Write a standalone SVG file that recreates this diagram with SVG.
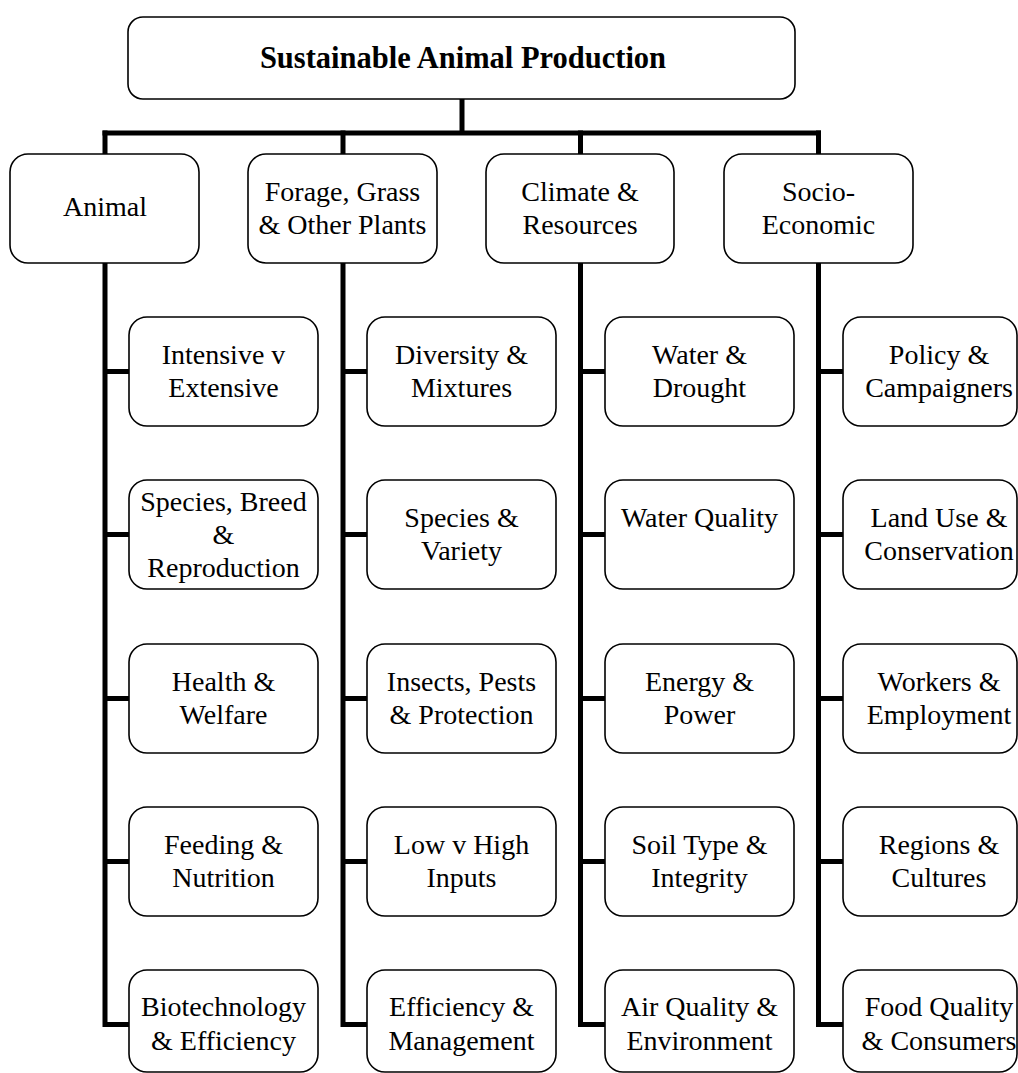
<svg xmlns="http://www.w3.org/2000/svg" width="1018" height="1073" viewBox="0 0 1018 1073">
<style>
.box{fill:#fff;stroke:#000;stroke-width:1.6}
.con{fill:none;stroke:#000;stroke-width:5;stroke-linecap:square;stroke-linejoin:miter}
text{font-family:"Liberation Serif","Times New Roman",serif;font-size:28px;fill:#000;text-anchor:middle}
.title{font-weight:bold;font-size:30.5px}
</style>
<rect width="1018" height="1073" fill="#fff"/>
<g id="connectors">
<path class="con" d="M462,99 V133 M105,133 H818.5"/>
<path class="con" d="M105,133 V1024.5 H129 M105,371.5 H129 M105,534.5 H129 M105,698.5 H129 M105,861.5 H129"/>
<path class="con" d="M343,133 V1024.5 H367 M343,371.5 H367 M343,534.5 H367 M343,698.5 H367 M343,861.5 H367"/>
<path class="con" d="M580.5,133 V1024.5 H605 M580.5,371.5 H605 M580.5,534.5 H605 M580.5,698.5 H605 M580.5,861.5 H605"/>
<path class="con" d="M818.5,133 V1024.5 H843 M818.5,371.5 H843 M818.5,534.5 H843 M818.5,698.5 H843 M818.5,861.5 H843"/>
</g>
<g id="root"><rect class="box" x="128" y="17" width="667" height="82" rx="15"/><text class="title" x="463" y="68">Sustainable Animal Production</text></g>
<g id="animal"><rect class="box" x="10" y="154" width="189" height="109" rx="18"/><text x="105" y="216">Animal</text></g>
<g id="forage"><rect class="box" x="248" y="154" width="189" height="109" rx="18"/><text x="342.5" y="201">Forage, Grass</text><text x="342.5" y="234">&amp; Other Plants</text></g>
<g id="climate"><rect class="box" x="486" y="154" width="188" height="109" rx="18"/><text x="580" y="201">Climate &amp;</text><text x="580" y="234">Resources</text></g>
<g id="socio"><rect class="box" x="724" y="154" width="189" height="109" rx="18"/><text x="818.5" y="201">Socio-</text><text x="818.5" y="234">Economic</text></g>

<g id="a1"><rect class="box" x="129" y="317" width="189" height="109" rx="18"/><text x="223.5" y="364">Intensive v</text><text x="223.5" y="397">Extensive</text></g>
<g id="a2"><rect class="box" x="129" y="480" width="189" height="109" rx="18"/><text x="223.5" y="511">Species, Breed</text><text x="223.5" y="544">&amp;</text><text x="223.5" y="577">Reproduction</text></g>
<g id="a3"><rect class="box" x="129" y="644" width="189" height="109" rx="18"/><text x="223.5" y="691">Health &amp;</text><text x="223.5" y="724">Welfare</text></g>
<g id="a4"><rect class="box" x="129" y="807" width="189" height="109" rx="18"/><text x="223.5" y="854">Feeding &amp;</text><text x="223.5" y="887">Nutrition</text></g>
<g id="a5"><rect class="box" x="129" y="970" width="189" height="102" rx="18"/><text x="223.5" y="1016">Biotechnology</text><text x="223.5" y="1050">&amp; Efficiency</text></g>

<g id="f1"><rect class="box" x="367" y="317" width="189" height="109" rx="18"/><text x="461.5" y="364">Diversity &amp;</text><text x="461.5" y="397">Mixtures</text></g>
<g id="f2"><rect class="box" x="367" y="480" width="189" height="109" rx="18"/><text x="461.5" y="527">Species &amp;</text><text x="461.5" y="560">Variety</text></g>
<g id="f3"><rect class="box" x="367" y="644" width="189" height="109" rx="18"/><text x="461.5" y="691">Insects, Pests</text><text x="461.5" y="724">&amp; Protection</text></g>
<g id="f4"><rect class="box" x="367" y="807" width="189" height="109" rx="18"/><text x="461.5" y="854">Low v High</text><text x="461.5" y="887">Inputs</text></g>
<g id="f5"><rect class="box" x="367" y="970" width="189" height="102" rx="18"/><text x="461.5" y="1016">Efficiency &amp;</text><text x="461.5" y="1050">Management</text></g>

<g id="c1"><rect class="box" x="605" y="317" width="189" height="109" rx="18"/><text x="699.5" y="364">Water &amp;</text><text x="699.5" y="397">Drought</text></g>
<g id="c2"><rect class="box" x="605" y="480" width="189" height="109" rx="18"/><text x="699.5" y="527">Water Quality</text></g>
<g id="c3"><rect class="box" x="605" y="644" width="189" height="109" rx="18"/><text x="699.5" y="691">Energy &amp;</text><text x="699.5" y="724">Power</text></g>
<g id="c4"><rect class="box" x="605" y="807" width="189" height="109" rx="18"/><text x="699.5" y="854">Soil Type &amp;</text><text x="699.5" y="887">Integrity</text></g>
<g id="c5"><rect class="box" x="605" y="970" width="189" height="102" rx="18"/><text x="699.5" y="1016">Air Quality &amp;</text><text x="699.5" y="1050">Environment</text></g>

<g id="s1"><rect class="box" x="843" y="317" width="174" height="109" rx="18"/><text x="939" y="364">Policy &amp;</text><text x="939" y="397">Campaigners</text></g>
<g id="s2"><rect class="box" x="843" y="480" width="174" height="109" rx="18"/><text x="939" y="527">Land Use &amp;</text><text x="939" y="560">Conservation</text></g>
<g id="s3"><rect class="box" x="843" y="644" width="174" height="109" rx="18"/><text x="939" y="691">Workers &amp;</text><text x="939" y="724">Employment</text></g>
<g id="s4"><rect class="box" x="843" y="807" width="174" height="109" rx="18"/><text x="939" y="854">Regions &amp;</text><text x="939" y="887">Cultures</text></g>
<g id="s5"><rect class="box" x="843" y="970" width="174" height="102" rx="18"/><text x="939" y="1016">Food Quality</text><text x="939" y="1050">&amp; Consumers</text></g>
</svg>
